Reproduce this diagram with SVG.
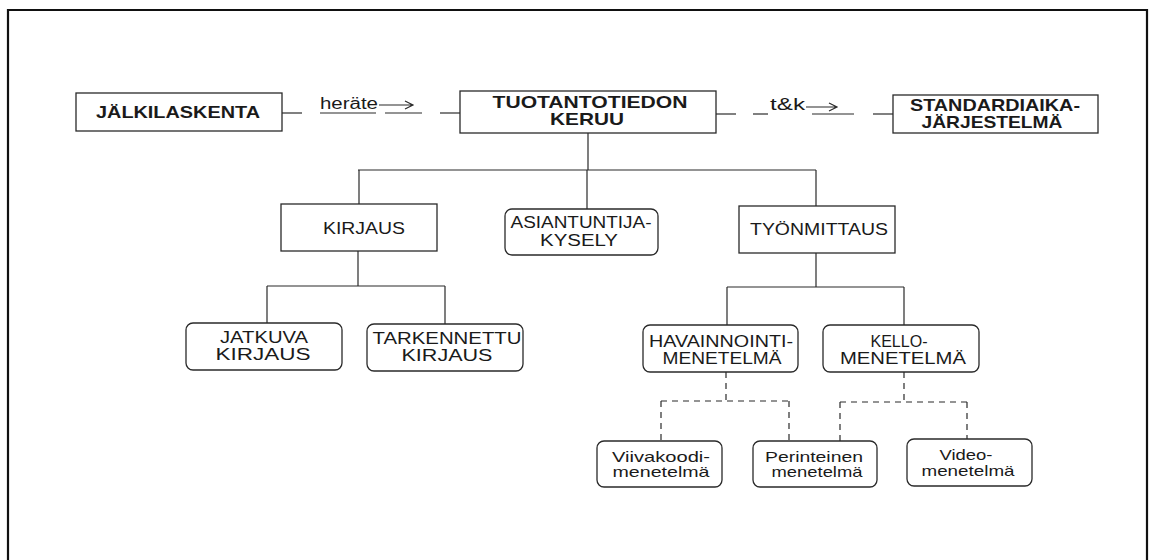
<svg xmlns="http://www.w3.org/2000/svg" width="1152" height="560" viewBox="0 0 1152 560">
<defs>
<style>
.box{fill:#fff;stroke:#2a2a2a;stroke-width:1.3}
.ln{stroke:#2a2a2a;stroke-width:1.2;fill:none}
.ds{stroke:#2a2a2a;stroke-width:1.2;fill:none;stroke-dasharray:6 5}
.b{font-family:"Liberation Sans",Arial,sans-serif;font-weight:bold;font-size:17px;fill:#1a1a1a;text-anchor:middle}
.r{font-family:"Liberation Sans",Arial,sans-serif;font-size:16px;fill:#1a1a1a;text-anchor:middle}
.s{font-family:"Liberation Sans",Arial,sans-serif;font-size:15px;fill:#1a1a1a;text-anchor:middle}
.lbl{font-family:"Liberation Sans",Arial,sans-serif;font-size:16px;fill:#1a1a1a}
</style>
</defs>
<rect x="0" y="0" width="1152" height="560" fill="#fff"/>
<path d="M8 600 V10 H1147 V600" fill="none" stroke="#111" stroke-width="2.2"/>

<g id="connectors">
<line class="ln" x1="282" y1="113" x2="302" y2="113"/>
<line class="ln" x1="320" y1="113" x2="376" y2="113"/>
<line class="ln" x1="385" y1="113" x2="422" y2="113"/>
<line class="ln" x1="440" y1="113" x2="460" y2="113"/>
<path class="ln" d="M379 105 H413 M405 101 L413 105 L405 109"/>
<line class="ln" x1="716" y1="114" x2="736" y2="114"/>
<line class="ln" x1="753" y1="114" x2="768" y2="114"/>
<line class="ln" x1="812" y1="114" x2="854" y2="114"/>
<line class="ln" x1="873" y1="114" x2="893" y2="114"/>
<path class="ln" d="M806 107 H837 M829 103 L837 107 L829 111"/>
<path class="ln" d="M588 133 V170 M358 170 H816 M359 170 V204 M587 170 V209 M816 170 V206"/>
<path class="ln" d="M358 251 V286 M267 286 H445 M267 286 V323 M445 286 V324"/>
<path class="ln" d="M816 253 V287 M727 287 H904 M727 287 V325 M904 287 V325"/>
<path class="ds" d="M726 372 V401 M661 401 H789 M661 401 V441 M789 401 V441"/>
<path class="ds" d="M904 372 V402 M840 402 H967 M840 402 V441 M967 402 V439"/>
</g>

<g id="n-jalki"><rect class="box" x="76" y="93" width="206" height="38"/>
<text class="b" x="178" y="118" textLength="164" lengthAdjust="spacingAndGlyphs">JÄLKILASKENTA</text></g>
<text class="lbl" x="320" y="109" textLength="58" lengthAdjust="spacingAndGlyphs">heräte</text>
<text class="lbl" x="770" y="110" textLength="35" lengthAdjust="spacingAndGlyphs">t&amp;k</text>

<g id="n-tuotanto"><rect class="box" x="460" y="91" width="256" height="42"/>
<text class="b" x="590" y="108" textLength="195" lengthAdjust="spacingAndGlyphs">TUOTANTOTIEDON</text>
<text class="b" x="587" y="125" textLength="74" lengthAdjust="spacingAndGlyphs">KERUU</text></g>

<g id="n-standard"><rect class="box" x="893" y="95" width="205" height="38"/>
<text class="b" x="995" y="111" font-size="16" textLength="170" lengthAdjust="spacingAndGlyphs">STANDARDIAIKA-</text>
<text class="b" x="992" y="128" font-size="16" textLength="141" lengthAdjust="spacingAndGlyphs">JÄRJESTELMÄ</text></g>

<g id="n-kirjaus"><rect class="box" x="281" y="204" width="156" height="47"/>
<text class="r" x="364" y="234" textLength="82" lengthAdjust="spacingAndGlyphs">KIRJAUS</text></g>

<g id="n-asiantuntija"><rect class="box" x="505" y="209" width="153" height="46" rx="7"/>
<text class="r" x="581" y="228" textLength="141" lengthAdjust="spacingAndGlyphs">ASIANTUNTIJA-</text>
<text class="r" x="579" y="246" textLength="78" lengthAdjust="spacingAndGlyphs">KYSELY</text></g>

<g id="n-tyonmittaus"><rect class="box" x="739" y="206" width="156" height="47"/>
<text class="r" x="819" y="235" textLength="138" lengthAdjust="spacingAndGlyphs">TYÖNMITTAUS</text></g>

<g id="n-jatkuva"><rect class="box" x="186" y="323" width="156" height="47" rx="7"/>
<text class="r" x="264" y="343" textLength="88" lengthAdjust="spacingAndGlyphs">JATKUVA</text>
<text class="r" x="263" y="360" textLength="95" lengthAdjust="spacingAndGlyphs">KIRJAUS</text></g>

<g id="n-tarkennettu"><rect class="box" x="367" y="324" width="156" height="47" rx="7"/>
<text class="r" x="447" y="344" textLength="149" lengthAdjust="spacingAndGlyphs">TARKENNETTU</text>
<text class="r" x="447" y="361" textLength="91" lengthAdjust="spacingAndGlyphs">KIRJAUS</text></g>

<g id="n-havainnointi"><rect class="box" x="643" y="325" width="155" height="47" rx="7"/>
<text class="r" x="721" y="347" textLength="144" lengthAdjust="spacingAndGlyphs">HAVAINNOINTI-</text>
<text class="r" x="722" y="364" textLength="119" lengthAdjust="spacingAndGlyphs">MENETELMÄ</text></g>

<g id="n-kello"><rect class="box" x="823" y="325" width="156" height="47" rx="7"/>
<text class="r" x="899" y="347" textLength="57" lengthAdjust="spacingAndGlyphs">KELLO-</text>
<text class="r" x="903" y="364" textLength="126" lengthAdjust="spacingAndGlyphs">MENETELMÄ</text></g>

<g id="n-viivakoodi"><rect class="box" x="597" y="441" width="125" height="46" rx="7"/>
<text class="s" x="661" y="462" textLength="98" lengthAdjust="spacingAndGlyphs">Viivakoodi-</text>
<text class="s" x="661" y="477" textLength="97" lengthAdjust="spacingAndGlyphs">menetelmä</text></g>

<g id="n-perinteinen"><rect class="box" x="753" y="441" width="124" height="46" rx="7"/>
<text class="s" x="814" y="462" textLength="98" lengthAdjust="spacingAndGlyphs">Perinteinen</text>
<text class="s" x="817" y="477" textLength="91" lengthAdjust="spacingAndGlyphs">menetelmä</text></g>

<g id="n-video"><rect class="box" x="907" y="439" width="125" height="47" rx="7"/>
<text class="s" x="966" y="460" textLength="53" lengthAdjust="spacingAndGlyphs">Video-</text>
<text class="s" x="968" y="476" textLength="93" lengthAdjust="spacingAndGlyphs">menetelmä</text></g>
</svg>
